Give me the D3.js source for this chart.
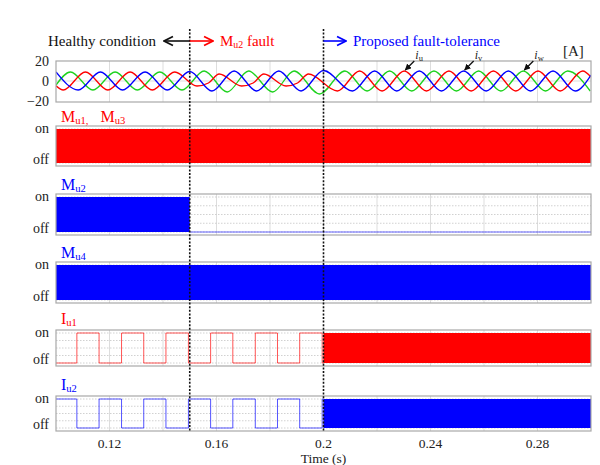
<!DOCTYPE html>
<html>
<head>
<meta charset="utf-8">
<script src="https://cdn.jsdelivr.net/npm/d3@7"></script>
<style>
  body { margin: 0; background: #fff; }
</style>
</head>
<body>
<div id="chart"></div>
<script>
// ---- data ----
const timeDomain = [0.1, 0.3]
const timeTicks = [0.12, 0.16, 0.2, 0.24, 0.28]
const gridTimes = [0.12, 0.14, 0.16, 0.18, 0.2, 0.22, 0.24, 0.26, 0.28]
const eventTimes = [0.15, 0.2]
const currentTicks = [20, 0, -20]
const stateTicks = [0, 0.25, 0.5, 0.75, 1]

// phase currents [t, A]
const iuPoints = [
	[0.1, -4.8], [0.1027, -9], [0.111, 9], [0.1194, -9], [0.1277, 9], [0.136, -9], [0.1444, 9],
	[0.1527, -5], [0.157, -2], [0.161, 7], [0.1694, -5], [0.1737, -2], [0.1777, 7], [0.186, -5],
	[0.1903, -2], [0.1944, 7], [0.2052, -10], [0.2135, 10], [0.2219, -10], [0.2302, 10],
	[0.2385, -10], [0.2469, 10], [0.2552, -10], [0.2635, 10], [0.2719, -10], [0.2802, 10],
	[0.2885, -10], [0.2969, 10], [0.3, 4],
]
const ivPoints = [
	[0.1, 9], [0.1083, -9], [0.1166, 9], [0.1249, -9], [0.1333, 9], [0.1416, -9], [0.15, 9.5],
	[0.1583, -10], [0.1666, 10], [0.175, -10], [0.1833, 10], [0.1916, -10], [0.2, 10.5],
	[0.2108, -10], [0.2191, 10], [0.2274, -10], [0.2358, 10], [0.2441, -10], [0.2524, 10],
	[0.2608, -10], [0.2691, 10], [0.2774, -10], [0.2858, 10], [0.2941, -10], [0.3, 6],
]
const iwPoints = [
	[0.1, -4], [0.1054, 9], [0.1138, -9], [0.1221, 9], [0.1304, -9], [0.1388, 9], [0.1471, -9],
	[0.1554, 10], [0.164, -11], [0.172, 10], [0.181, -11], [0.189, 10], [0.1985, -13],
	[0.208, 10], [0.2163, -10], [0.2247, 10], [0.233, -10], [0.2413, 10], [0.2497, -10],
	[0.258, 10], [0.2663, -10], [0.2747, 10], [0.283, -10], [0.2913, 10], [0.2997, -10],
]

// gate signals: dense PWM intervals, idle-off intervals, square-wave edges
const mu13Pwm = [[0.1, 0.3]]
const mu2Pwm = [[0.1, 0.15]]
const mu2Off = [[0.15, 0.3]]
const mu4Pwm = [[0.1, 0.3]]
const iu1Start = 0
const iu1Edges = [0.1078, 0.1161, 0.1245, 0.1328, 0.1411, 0.1495, 0.1578, 0.1661, 0.1745, 0.1828, 0.1911, 0.1995]
const iu1Pwm = [[0.2, 0.3]]
const iu2Start = 1
const iu2Edges = [0.1078, 0.1161, 0.1245, 0.1328, 0.1411, 0.1495, 0.1578, 0.1661, 0.1745, 0.1828, 0.1911, 0.1995]
const iu2Pwm = [[0.2, 0.3]]

const RED = "#ff0000", BLUE = "#0000ff", GREEN = "#1ed21e", GRID = "#d4d4d4", FRAME = "#a8a8a8"
const SERIF = "'Liberation Serif', 'DejaVu Serif', serif"

const width = 600, height = 465
const svg = d3.select("#chart").append("svg").attr("width", width).attr("height", height)
	.attr("font-family", SERIF).style("font-family", SERIF)

const x = d3.scaleLinear().domain(timeDomain).range([56, 591])

// ---- current panel ----
const cur = { top: 61, bottom: 102 }
const yCur = d3.scaleLinear().domain([-20, 20]).range([101, 61])

function frame(top, bottom) {
	const g = svg.append("g")
	g.selectAll("line.vg").data(gridTimes).join("line")
		.attr("x1", (d) => x(d)).attr("x2", (d) => x(d))
		.attr("y1", top).attr("y2", bottom)
		.attr("stroke", GRID).attr("stroke-width", 0.8)
	return g
}

frame(cur.top, cur.bottom)
svg.append("line").attr("x1", x.range()[0]).attr("x2", x.range()[1])
	.attr("y1", yCur(0)).attr("y2", yCur(0)).attr("stroke", GRID).attr("stroke-width", 0.8)

svg.append("clipPath").attr("id", "curClip").append("rect")
	.attr("x", x.range()[0]).attr("y", cur.top).attr("width", x.range()[1] - x.range()[0]).attr("height", cur.bottom - cur.top)

const curLine = d3.line().x((d) => x(d[0])).y((d) => yCur(d[1])).curve(d3.curveMonotoneX)
;[[iwPoints, GREEN], [iuPoints, RED], [ivPoints, BLUE]].forEach(([pts, c]) => {
	svg.append("path").datum(pts).attr("clip-path", "url(#curClip)")
		.attr("fill", "none").attr("stroke", c).attr("stroke-width", 1.3).attr("d", curLine)
})

svg.append("rect").attr("x", x.range()[0]).attr("y", cur.top)
	.attr("width", x.range()[1] - x.range()[0]).attr("height", cur.bottom - cur.top)
	.attr("fill", "none").attr("stroke", FRAME).attr("stroke-width", 1.2)

svg.append("g").selectAll("text").data(currentTicks).join("text")
	.attr("x", 49).attr("y", (d) => yCur(d) + 4.5).attr("text-anchor", "end")
	.attr("font-size", 14).attr("fill", "#222")
	.text((d) => (d < 0 ? "\u2212" + Math.abs(d) : d))

// ---- gate panels ----
const panels = [
	{ top: 126, bottom: 166, color: RED, pwm: mu13Pwm },
	{ top: 194, bottom: 235, color: BLUE, pwm: mu2Pwm, off: mu2Off },
	{ top: 262, bottom: 303, color: BLUE, pwm: mu4Pwm },
	{ top: 330, bottom: 366, color: RED, pwm: iu1Pwm, start: iu1Start, edges: iu1Edges },
	{ top: 396, bottom: 431, color: BLUE, pwm: iu2Pwm, start: iu2Start, edges: iu2Edges },
]

panels.forEach((p) => {
	const y = d3.scaleLinear().domain([0, 1]).range([p.bottom - 3, p.top + 3])
	const g = frame(p.top, p.bottom)
	g.selectAll("line.hg").data(stateTicks).join("line")
		.attr("x1", x.range()[0]).attr("x2", x.range()[1])
		.attr("y1", (d) => y(d)).attr("y2", (d) => y(d))
		.attr("stroke", "#bdbdbd").attr("stroke-width", 0.7).attr("stroke-dasharray", "1.5,1.5")

	if (p.edges) {
		const steps = [[timeDomain[0], p.start]]
		let s = p.start
		p.edges.forEach((t) => { s = 1 - s; steps.push([t, s]) })
		steps.push([p.pwm[0][0], s])
		g.append("path").datum(steps).attr("fill", "none").attr("stroke", p.color).attr("stroke-width", 0.9)
			.attr("opacity", 0.75)
			.attr("d", d3.line().x((d) => x(d[0])).y((d) => y(d[1])).curve(d3.curveStepAfter))
	}
	if (p.off) {
		g.selectAll("line.off").data(p.off).join("line")
			.attr("x1", (d) => x(d[0])).attr("x2", (d) => x(d[1]))
			.attr("y1", y(0)).attr("y2", y(0)).attr("stroke", p.color).attr("stroke-width", 1).attr("opacity", 0.6)
	}
	g.selectAll("rect.pwm").data(p.pwm).join("rect")
		.attr("x", (d) => x(d[0])).attr("width", (d) => x(d[1]) - x(d[0]))
		.attr("y", y(1)).attr("height", y(0) - y(1)).attr("fill", p.color)

	svg.append("rect").attr("x", x.range()[0]).attr("y", p.top)
		.attr("width", x.range()[1] - x.range()[0]).attr("height", p.bottom - p.top)
		.attr("fill", "none").attr("stroke", FRAME).attr("stroke-width", 1.2)

	svg.append("text").attr("x", 49).attr("y", y(1) + 4).attr("text-anchor", "end")
		.attr("font-size", 14).attr("fill", "#222").text("on")
	svg.append("text").attr("x", 49).attr("y", y(0) + 1).attr("text-anchor", "end")
		.attr("font-size", 14).attr("fill", "#222").text("off")
})

// titles with subscripts: parts = [[main, sub], ...]
function subLabel(tx, ty, color, parts, size = 16) {
	const t = svg.append("text").attr("x", tx).attr("y", ty).attr("fill", color).attr("font-size", size)
	let shifted = 0
	parts.forEach(([main, sub]) => {
		t.append("tspan").attr("dy", -shifted).text(main)
		shifted = 0
		if (sub) {
			t.append("tspan").attr("font-size", size * 0.66).attr("dy", 2).text(sub)
			shifted = 2
		}
	})
	return t
}
subLabel(61, 122, RED, [["M", "u1,"], ["\u00a0\u00a0\u00a0M", "u3"]])
subLabel(61, 190, BLUE, [["M", "u2"]])
subLabel(61, 258, BLUE, [["M", "u4"]])
subLabel(61, 324, RED, [["I", "u1"]])
subLabel(61, 390, BLUE, [["I", "u2"]])

// ---- time axis ----
svg.append("g").selectAll("text").data(timeTicks).join("text")
	.attr("x", (d) => x(d)).attr("y", 448).attr("text-anchor", "middle")
	.attr("font-size", 13.5).attr("fill", "#222").text((d) => d)
svg.append("text").attr("x", x(0.2)).attr("y", 463).attr("text-anchor", "middle")
	.attr("font-size", 13.5).attr("fill", "#222").text("Time (s)")

// ---- event lines ----
svg.append("g").selectAll("line").data(eventTimes).join("line")
	.attr("x1", (d) => x(d)).attr("x2", (d) => x(d)).attr("y1", 29).attr("y2", 432)
	.attr("stroke", "#111").attr("stroke-width", 1.6).attr("stroke-dasharray", "2,1.6")

// ---- header ----
const defs = svg.append("defs")
;[["k", "#111"], ["r", RED], ["b", BLUE]].forEach(([id, c]) => {
	defs.append("marker").attr("id", "ah-" + id).attr("viewBox", "0 0 10 10").attr("refX", 9).attr("refY", 5)
		.attr("markerWidth", 7).attr("markerHeight", 7).attr("orient", "auto")
		.append("path").attr("d", "M1,1 L9,5 L1,9").attr("fill", "none").attr("stroke", c).attr("stroke-width", 1.6)
})
defs.append("marker").attr("id", "ah-f").attr("viewBox", "0 0 10 10").attr("refX", 9).attr("refY", 5)
	.attr("markerWidth", 5).attr("markerHeight", 5).attr("orient", "auto")
	.append("path").attr("d", "M0,0 L10,5 L0,10 Z").attr("fill", "#111")

const hy = 41
svg.append("text").attr("x", 48).attr("y", hy + 5).attr("font-size", 15).attr("fill", "#111").text("Healthy condition")
svg.append("line").attr("x1", x(0.15)).attr("x2", 164).attr("y1", hy).attr("y2", hy)
	.attr("stroke", "#111").attr("stroke-width", 1.6).attr("marker-end", "url(#ah-k)")
svg.append("line").attr("x1", x(0.15)).attr("x2", 213).attr("y1", hy).attr("y2", hy)
	.attr("stroke", RED).attr("stroke-width", 1.6).attr("marker-end", "url(#ah-r)")
subLabel(220, hy + 5, RED, [["M", "u2"], [" fault"]], 15)
svg.append("line").attr("x1", x(0.2)).attr("x2", 346).attr("y1", hy).attr("y2", hy)
	.attr("stroke", BLUE).attr("stroke-width", 1.6).attr("marker-end", "url(#ah-b)")
svg.append("text").attr("x", 353).attr("y", hy + 5).attr("font-size", 15).attr("fill", BLUE).text("Proposed fault-tolerance")

svg.append("text").attr("x", 563).attr("y", 56).attr("font-size", 15).attr("fill", "#222").text("[A]")

// phase labels with pointer arrows
const phaseLabels = [
	{ name: "u", t: 0.2302 },
	{ name: "v", t: 0.2524 },
	{ name: "w", t: 0.2747 },
]
phaseLabels.forEach((d) => {
	const px = x(d.t), py = yCur(10)
	svg.append("line").attr("x1", px + 10).attr("y1", py - 10).attr("x2", px + 1).attr("y2", py - 1)
		.attr("stroke", "#111").attr("stroke-width", 1.3).attr("marker-end", "url(#ah-f)")
	const t = svg.append("text").attr("x", px + 11).attr("y", py - 12).attr("font-size", 12).attr("fill", "#222")
	t.append("tspan").attr("font-style", "italic").text("i")
	t.append("tspan").attr("font-size", 8.5).attr("dy", 2).text(d.name)
})
</script>
</body>
</html>
